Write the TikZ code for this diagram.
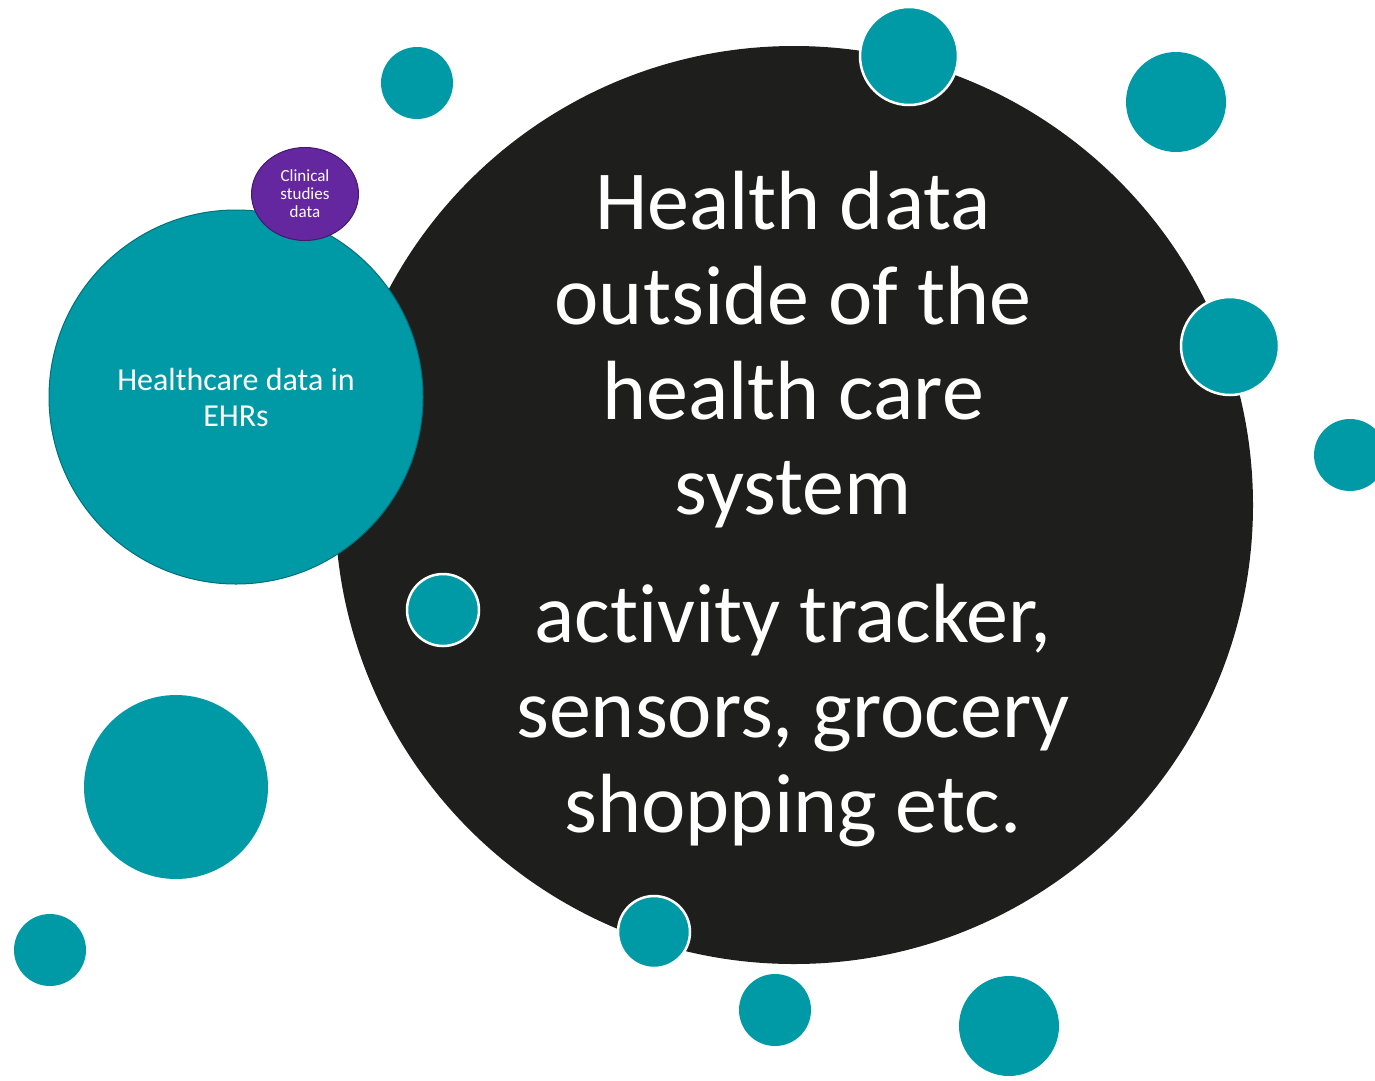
\documentclass[tikz,border=0pt]{standalone}
\usepackage{fontspec}
\setmainfont{Carlito}[Ligatures=NoCommon, RawFeature={-calt}]
\usetikzlibrary{positioning, shapes.geometric}
\definecolor{dotteal}{HTML}{009AA6}
\definecolor{edgeteal}{HTML}{00717B}
\definecolor{darkbg}{HTML}{1E1E1C}
\definecolor{clinpurple}{HTML}{6427A0}
\definecolor{edgepurple}{HTML}{44186F}

\tikzset{
  tealdot/.style={circle, fill=dotteal, inner sep=0pt, minimum size=#1},
  ringdot/.style={tealdot=#1, draw=white, line width=2.5pt},
  bigtext/.style={text=white, align=center, font=\fontsize{84}{95}\selectfont},
}

\begin{document}
\begin{tikzpicture}[x=1pt, y=-1pt]
  \useasboundingbox (0,0) rectangle (1375,1080);
  % main black circle
  \node [circle, fill=darkbg, inner sep=0pt, minimum size=918] (outside) at (794,505) {};
  % EHR circle and clinical studies
  \node [circle, fill=dotteal, draw=edgeteal, line width=1pt, inner sep=0pt, minimum size=374,
         text=white, align=center, font=\fontsize{32}{36}\selectfont] (ehr) at (236,397) {Healthcare data in\\EHRs};
  \node [ellipse, fill=clinpurple, draw=edgepurple, line width=1pt, inner sep=0pt,
         minimum width=107, minimum height=93, text=white, align=center,
         font=\fontsize{17}{18}\selectfont] (clinical) at (305,194) {Clinical\\studies\\data};
  % small dots
  \node [tealdot=72] (d1) at (417,83) {};
  \node [ringdot=98] (d2) at (909,56) {};
  \node [tealdot=100] (d3) at (1176,102) {};
  \node [ringdot=98] (d4) at (1230,346) {};
  \node [tealdot=72] (d5) at (1350,455) {};
  \node [ringdot=72] (d6) at (443,610) {};
  \node [tealdot=184] (d7) at (176,787) {};
  \node [tealdot=72] (d8) at (50,950) {};
  \node [ringdot=72] (d9) at (654,932) {};
  \node [tealdot=72] (d10) at (775,1010) {};
  \node [tealdot=100] (d11) at (1009,1026) {};
  % texts
  \node [bigtext] (title) at (793,350) {Health data\\outside of the\\health care\\system};
  \node [bigtext] (examples) at (793,716) {activity tracker,\\sensors, grocery\\shopping etc.};
\end{tikzpicture}
\end{document}
